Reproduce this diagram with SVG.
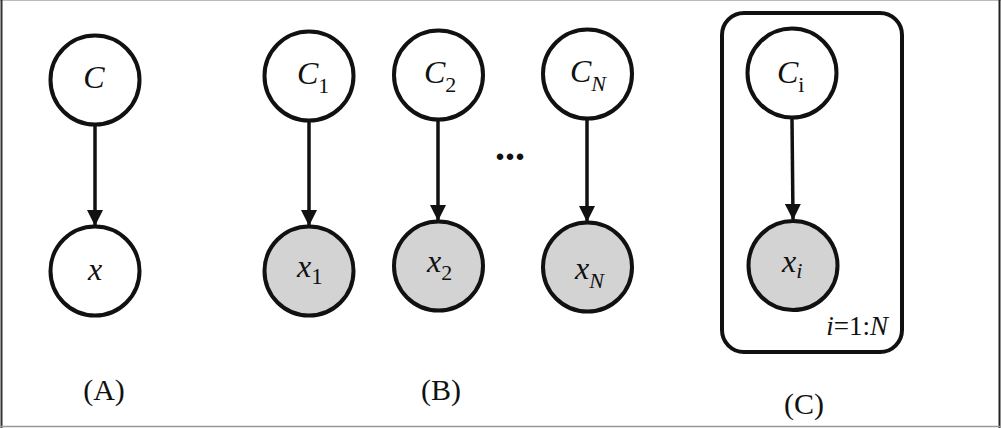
<svg xmlns="http://www.w3.org/2000/svg" width="1001" height="428" viewBox="0 0 1001 428">
<defs>
<style>
.n{stroke:#111;stroke-width:4;fill:#fff}
.o{stroke:#111;stroke-width:4;fill:#d3d3d3}
.e{stroke:#111;stroke-width:3.5;fill:none}
</style>
<marker id="ah" markerUnits="userSpaceOnUse" markerWidth="16" markerHeight="16" viewBox="0 0 16 16" refX="15" refY="8" orient="auto">
<path d="M0,0 L16,8 L0,16 Z" fill="#111"/>
</marker>
</defs>
<rect x="0" y="0" width="1001" height="428" fill="#fff"/>
<line x1="0" y1="0.5" x2="1001" y2="0.5" stroke="#bbb" stroke-width="1"/>
<line x1="1.5" y1="0" x2="1.5" y2="428" stroke="#333" stroke-width="2"/>
<line x1="999.5" y1="0" x2="999.5" y2="428" stroke="#222" stroke-width="2"/>
<line x1="0" y1="426.5" x2="1001" y2="426.5" stroke="#999" stroke-width="1.5"/>

<g id="connectors">
<line class="e" x1="95" y1="126" x2="95" y2="225" marker-end="url(#ah)"/>
<line class="e" x1="309" y1="122" x2="309" y2="225" marker-end="url(#ah)"/>
<line class="e" x1="438" y1="121" x2="438" y2="220" marker-end="url(#ah)"/>
<line class="e" x1="587" y1="120" x2="587" y2="221" marker-end="url(#ah)"/>
<line class="e" x1="792" y1="119" x2="793" y2="219" marker-end="url(#ah)"/>
</g>

<g font-family="Liberation Serif, Times New Roman, serif" fill="#111">
<g id="plate">
<rect x="722" y="13" width="180" height="339" rx="22" ry="22" fill="none" stroke="#111" stroke-width="4"/>
<text x="888" y="335" font-size="27" text-anchor="end"><tspan font-style="italic">i</tspan>=1:<tspan font-style="italic">N</tspan></text>
</g>

<g id="nodeC">
<circle class="n" cx="95" cy="80" r="44.5"/>
<text x="94" y="88" font-size="32" font-style="italic" text-anchor="middle">C</text>
</g>
<g id="nodeX">
<circle class="n" cx="95" cy="271" r="44.5"/>
<text x="95" y="280" font-size="32" font-style="italic" text-anchor="middle">x</text>
</g>

<g id="nodeC1">
<circle class="n" cx="309" cy="76" r="44.5"/>
<text x="297" y="84" font-size="32"><tspan font-style="italic">C</tspan><tspan font-size="22" dy="9">1</tspan></text>
</g>
<g id="nodeX1">
<circle class="o" cx="309" cy="271" r="44.5"/>
<text x="297" y="277" font-size="32"><tspan font-style="italic">x</tspan><tspan font-size="23" dy="7">1</tspan></text>
</g>

<g id="nodeC2">
<circle class="n" cx="438.5" cy="75" r="44.5"/>
<text x="424" y="83" font-size="32"><tspan font-style="italic">C</tspan><tspan font-size="22" dy="9">2</tspan></text>
</g>
<g id="nodeX2">
<circle class="o" cx="438.5" cy="266" r="44.5"/>
<text x="427" y="272" font-size="32"><tspan font-style="italic">x</tspan><tspan font-size="22" dy="8">2</tspan></text>
</g>

<g id="dots">
<text x="495" y="160" font-size="40" font-weight="bold">...</text>
</g>

<g id="nodeCN">
<circle class="n" cx="587.5" cy="74" r="44.5"/>
<text x="570" y="82" font-size="32"><tspan font-style="italic">C</tspan><tspan font-style="italic" font-size="22" dy="9">N</tspan></text>
</g>
<g id="nodeXN">
<circle class="o" cx="587.5" cy="267" r="44.5"/>
<text x="575" y="279" font-size="32"><tspan font-style="italic">x</tspan><tspan font-style="italic" font-size="22" dy="9">N</tspan></text>
</g>

<g id="nodeCi">
<circle class="n" cx="792" cy="73" r="44.5"/>
<text x="777" y="83" font-size="32"><tspan font-style="italic">C</tspan><tspan font-size="22" dy="9">i</tspan></text>
</g>
<g id="nodeXi">
<circle class="o" cx="793" cy="265.5" r="44.5"/>
<text x="782" y="272" font-size="32"><tspan font-style="italic">x</tspan><tspan font-style="italic" font-size="22" dy="6">i</tspan></text>
</g>

<g id="labels" font-size="30" text-anchor="middle">
<text x="104" y="400">(A)</text>
<text x="441" y="400">(B)</text>
<text x="804" y="414">(C)</text>
</g>
</g>
</svg>
